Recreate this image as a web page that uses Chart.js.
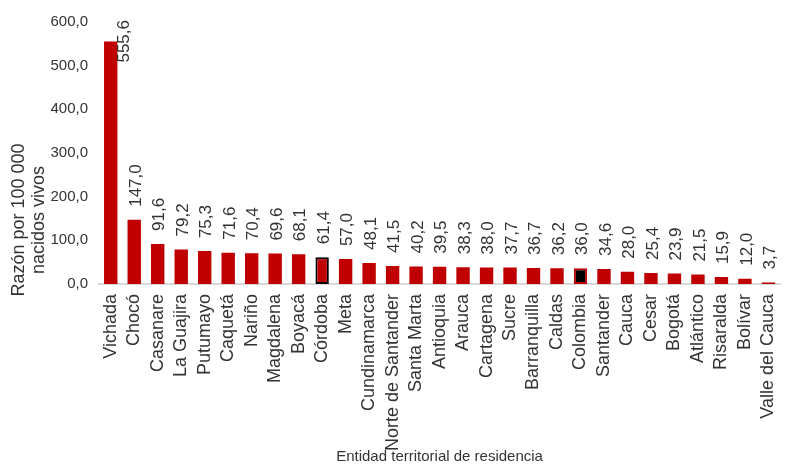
<!DOCTYPE html>
<html>
<head>
<meta charset="utf-8">
<script src="https://cdn.jsdelivr.net/npm/chart.js@4"></script>
<style>
  html, body { margin: 0; padding: 0; background: #fff; overflow: hidden; }
  canvas { display: block; }
</style>
</head>
<body>
<canvas id="chart" width="800" height="466"></canvas>
<script>
// Razón de mortalidad por entidad territorial
const entidades = ['Vichada', 'Chocó', 'Casanare', 'La Guajira', 'Putumayo', 'Caquetá', 'Nariño',
    'Magdalena', 'Boyacá', 'Córdoba', 'Meta', 'Cundinamarca', 'Norte de Santander', 'Santa Marta',
    'Antioquia', 'Arauca', 'Cartagena', 'Sucre', 'Barranquilla', 'Caldas', 'Colombia', 'Santander',
    'Cauca', 'Cesar', 'Bogotá', 'Atlántico', 'Risaralda', 'Bolívar', 'Valle del Cauca'];
const razon = [555.6, 147.0, 91.6, 79.2, 75.3, 71.6, 70.4, 69.6, 68.1, 61.4, 57.0, 48.1, 41.5, 40.2,
    39.5, 38.3, 38.0, 37.7, 36.7, 36.2, 36.0, 34.6, 28.0, 25.4, 23.9, 21.5, 15.9, 12.0, 3.7];
const yTicks = [0, 100, 200, 300, 400, 500, 600];

const ROJO = '#C00000';
const NEGRO = '#000000';
const FUENTE = '"Liberation Sans", Arial, sans-serif';
const TEXTO = '#333333';

const fmt = v => v.toFixed(1).replace('.', ',');

const fondos = entidades.map(e => e === 'Colombia' ? NEGRO : ROJO);
const bordes = entidades.map(e => e === 'Córdoba' ? NEGRO : ROJO);
const anchos = entidades.map(e => (e === 'Córdoba' || e === 'Colombia') ? 2 : 0);

// etiquetas de valor giradas encima de cada barra
const etiquetas = {
    id: 'etiquetas',
    afterDatasetsDraw(chart) {
        const ctx = chart.ctx;
        const area = chart.chartArea;
        const meta = chart.getDatasetMeta(0);
        ctx.save();
        ctx.font = '17px ' + FUENTE;
        ctx.fillStyle = TEXTO;
        ctx.textAlign = 'left';
        ctx.textBaseline = 'middle';
        meta.data.forEach((bar, i) => {
            const txt = fmt(razon[i]);
            const w = ctx.measureText(txt).width;
            let x = bar.x + 2;
            let y = bar.y - 13;
            if (y - w < area.top - 2) {
                y = area.top - 2 + w;
                x = bar.x + 14;
            }
            ctx.save();
            ctx.translate(x, y);
            ctx.rotate(-Math.PI / 2);
            ctx.fillText(txt, 0, 0);
            ctx.restore();
        });
        ctx.restore();
    }
};

// título del eje y en dos líneas
const tituloY = {
    id: 'tituloY',
    afterDraw(chart) {
        const ctx = chart.ctx;
        ctx.save();
        ctx.font = '18px ' + FUENTE;
        ctx.fillStyle = TEXTO;
        ctx.textAlign = 'center';
        ctx.textBaseline = 'middle';
        ctx.translate(0, 220);
        ctx.rotate(-Math.PI / 2);
        ctx.fillText('Razón por 100 000', 0, 19);
        ctx.fillText('nacidos vivos', 0, 39);
        ctx.restore();
    }
};

document.addEventListener('DOMContentLoaded', function () {
    const ctx = document.getElementById('chart').getContext('2d');
    new Chart(ctx, {
        type: 'bar',
        data: {
            labels: entidades,
            datasets: [{
                data: razon,
                backgroundColor: fondos,
                borderColor: bordes,
                borderWidth: anchos,
                borderSkipped: false,
                barPercentage: 0.57,
                categoryPercentage: 1.0
            }]
        },
        options: {
            responsive: false,
            animation: false,
            devicePixelRatio: 1,
            layout: { padding: { top: 22, right: 0, bottom: 0, left: 0 } },
            plugins: {
                legend: { display: false },
                tooltip: { enabled: false }
            },
            scales: {
                x: {
                    grid: { display: true, drawOnChartArea: false, drawTicks: false },
                    border: { display: true, color: '#d9d9d9', width: 2 },
                    ticks: {
                        autoSkip: false,
                        minRotation: 90,
                        maxRotation: 90,
                        padding: 10,
                        color: TEXTO,
                        font: { family: FUENTE, size: 18 }
                    },
                    title: {
                        display: true,
                        text: 'Entidad territorial de residencia',
                        color: TEXTO,
                        font: { family: FUENTE, size: 15 },
                        padding: { top: 0, bottom: 0 }
                    },
                    afterFit(scale) { scale.height = 182; }
                },
                y: {
                    min: 0,
                    max: 600,
                    grid: { display: false, drawTicks: false },
                    border: { display: false },
                    afterBuildTicks(scale) { scale.ticks = yTicks.map(v => ({ value: v })); },
                    ticks: {
                        padding: 11,
                        color: TEXTO,
                        font: { family: FUENTE, size: 15 },
                        callback: v => fmt(v)
                    },
                    afterFit(scale) { scale.width = 99; }
                }
            }
        },
        plugins: [etiquetas, tituloY]
    });
});
</script>
</body>
</html>
